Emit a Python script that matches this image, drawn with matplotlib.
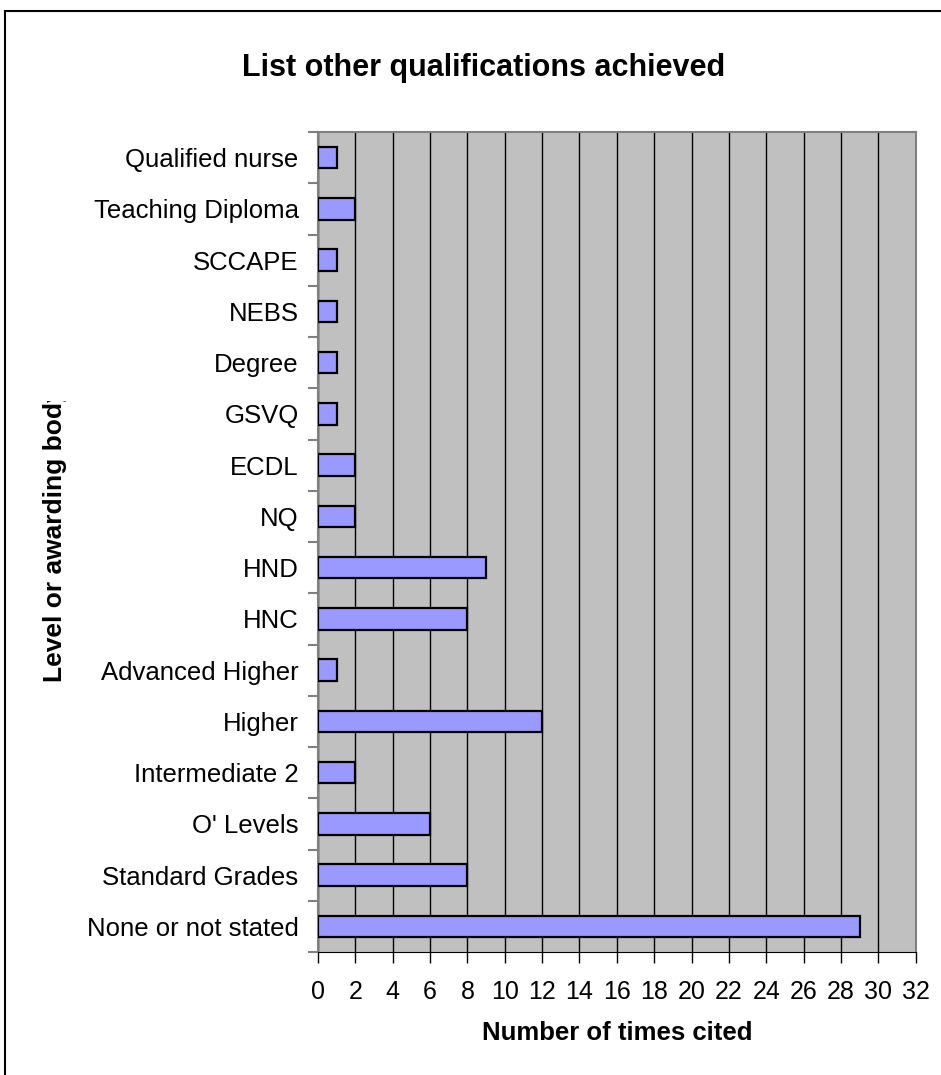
import numpy as np
import matplotlib.pyplot as plt
from matplotlib.lines import Line2D
from matplotlib.transforms import Bbox, TransformedBbox

plt.rcParams['font.family'] = ['Liberation Sans', 'DejaVu Sans']

# qualifications, bottom to top
labels = ["None or not stated", "Standard Grades", "O' Levels", "Intermediate 2",
          "Higher", "Advanced Higher", "HNC", "HND", "NQ", "ECDL", "GSVQ",
          "Degree", "NEBS", "SCCAPE", "Teaching Diploma", "Qualified nurse"]
counts = [29, 8, 6, 2, 12, 1, 8, 9, 2, 2, 1, 1, 1, 1, 2, 1]
xticks = np.arange(0, 33, 2)

fig = plt.figure(figsize=(9.41, 10.75), dpi=100)
ax = fig.add_axes([0.338, 0.1144, 0.635, 0.7628])
ax.set_facecolor('#C0C0C0')

y = np.arange(len(labels))
ax.barh(y, counts, height=0.42, color='#9999FF', edgecolor='black', linewidth=1.6, zorder=3)

ax.set_xlim(0, 32)
ax.set_ylim(-0.5, len(labels) - 0.5)
ax.set_xticks(xticks)
ax.set_xticklabels([str(v) for v in xticks], fontsize=18)
ax.xaxis.grid(True, color='black', linewidth=1.0, zorder=1)
ax.set_axisbelow(True)

ax.set_yticks(y)
ax.set_yticklabels(labels, fontsize=18.5)
ax.tick_params(axis='y', which='major', length=0, pad=14)
ax.set_yticks(np.arange(-0.5, len(labels), 1), minor=True)
ax.tick_params(axis='y', which='minor', length=7, color='#808080', width=1.5)
ax.tick_params(axis='x', length=8, color='black', width=1, pad=12)

for side in ['left', 'top', 'right']:
    ax.spines[side].set_color('#808080')
    ax.spines[side].set_linewidth(1.5)
ax.spines['bottom'].set_color('black')

fig.text(0.656, 0.039, "Number of times cited", fontsize=18.5, fontweight='bold',
         ha='center', va='center')
ylab = fig.text(0.058, 1 - 682 / 1075, "Level or awarding body", rotation=90,
                fontsize=19, fontweight='bold', ha='center', va='bottom')
# the label runs past the top of its box and is cut there
ylab.set_clip_box(TransformedBbox(Bbox([[0, 0], [1, 1 - 401 / 1075]]), fig.transFigure))
ylab.set_clip_on(True)
fig.text(0.514, 0.937, "List other qualifications achieved", fontsize=22,
         fontweight='bold', ha='center', va='center')

# chart frame, left and top edges
fig.add_artist(Line2D([0.0055, 0.0055], [0, 1 - 11 / 1075], transform=fig.transFigure,
                      color='black', linewidth=1.5))
fig.add_artist(Line2D([0.0055, 1], [1 - 11 / 1075, 1 - 11 / 1075], transform=fig.transFigure,
                      color='black', linewidth=1.5))

fig.savefig('out.png', dpi=100)
